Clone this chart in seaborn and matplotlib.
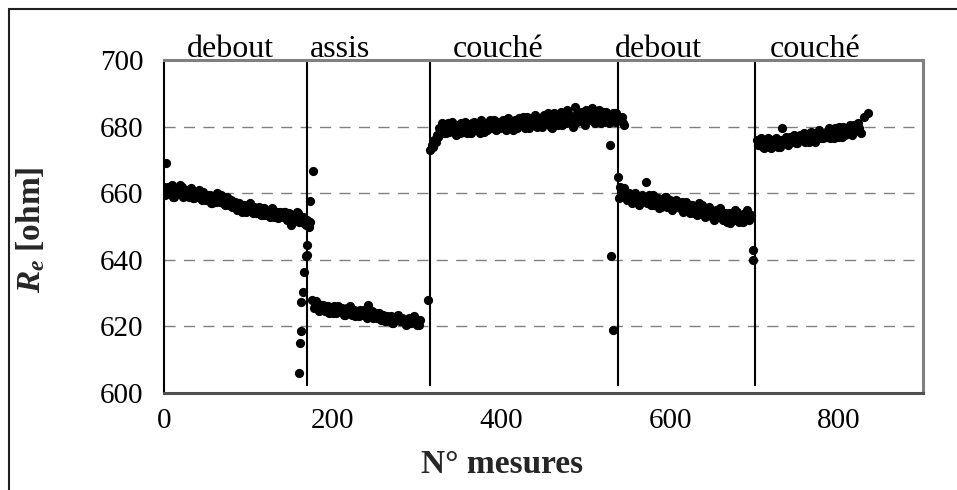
import numpy as np
import pandas as pd
import matplotlib
matplotlib.use("Agg")
import matplotlib.pyplot as plt
from matplotlib.lines import Line2D
import seaborn as sns

# ---------------- data ----------------
STEP = 3
seg1_start = 0
seg1_vals = [662, 661, 660, 662.5, 659, 661.5, 660, 662, 659.5,
             661, 659, 660.5, 658.5, 660, 661, 658, 659.5,
             658, 659.5, 657, 658.5, 660, 657.5, 658, 656.5, 659, 657.5,
             656, 657.5, 655, 656.5, 654.5, 656, 655, 657, 654, 655.5,
             654.5, 655.5, 653.5, 655, 654, 653, 655, 654, 652.5, 654.5,
             653, 654.5, 652.5, 650.5, 653.5, 652, 654, 651.5, 653, 650.5]
seg1b_start = 1.5
seg1b_vals = [659.5, 662, 661, 659, 661.5, 660, 662.5, 659, 661,
              659.5, 661.5, 658.5, 660, 659, 658.5, 660.5, 658,
              659.5, 657, 659, 657.5, 658, 659.5, 657, 658.5, 656.5, 658,
              657.5, 655.5, 657, 655, 656.5, 654.5, 656.5, 655, 656, 654,
              656, 653.5, 655.5, 653.5, 654.5, 655.5, 653, 654.5, 653, 653.5,
              654.5, 652, 654, 653, 652, 654.5, 651.5, 653, 651, 652]
trans1_x = [2, 160, 161, 162, 163, 165, 166, 168, 169, 169, 172, 173, 173, 177]
trans1_y = [669, 606, 615, 618.7, 627.2, 630.2, 636.2, 641, 641.3, 644.5, 649.8, 651.5, 657.6, 666.6]

seg2_start = 176
seg2_vals = [628, 626, 627, 625, 626.5, 624.5, 626, 625, 624, 625.5, 626, 624.5,
             625, 623.5, 625, 626, 624, 623, 624.5, 625, 623.5, 624, 626.5, 623,
             622.5, 624, 623, 622, 623.5, 621.5, 622.5, 623, 621, 622, 623.5,
             621.5, 622, 620.5, 622.5, 621, 623, 621.5, 620.5]
seg2b_start = 177.5
seg2b_vals = [625.5, 627.5, 624.5, 626.5, 625, 626, 624, 625.5, 626, 624, 624.5, 625.5,
              623.5, 625.5, 624, 623.5, 625, 624.5, 623, 624, 625, 622.5, 623.5, 624.5,
              623.5, 622.5, 624, 623, 621.5, 623, 622, 621, 622.5, 623, 621.5,
              622.5, 621, 622, 621, 622, 621.5, 620.5, 622]
trans2_x = [313]
trans2_y = [628]

seg3_start = 316
seg3_vals = [673, 674, 675.5, 677, 678.5, 680,
             678, 681, 679, 680.5, 677.5, 680, 681, 678.5, 679.5,
             680.5, 678, 681.5, 679, 680, 682, 678.5, 681, 679.5, 680.5, 682, 679, 681, 680,
             681.5, 679, 682, 680, 681, 679.5, 682.5, 680.5, 681, 683, 679.5, 682, 681, 680,
             682.5, 680, 683.5, 681, 682, 679.5, 684, 681.5, 682.5, 680.5, 683, 685, 681, 682.5,
             686, 681.5, 683, 684.5, 680.5, 683.5, 682, 685.5, 681, 684, 682.5, 684.5,
             681.5, 683, 682, 684, 681.5, 683, 682.5, 681]
seg3b_start = 317.5
seg3b_vals = [674.5, 676, 677.5, 679.5, 681, 678,
              680, 678.5, 681.5, 679, 680.5, 678, 679.5, 681.5, 678,
              679, 681, 679.5, 680.5, 678, 681, 680, 679, 682, 679.5, 680.5, 681.5, 679.5, 682,
              680, 682.5, 680.5, 679, 682, 680.5, 681, 683, 679.5, 681.5, 682.5, 680.5, 683.5, 681.5,
              680.5, 683, 681.5, 684, 680, 683, 682, 680.5, 684.5, 682, 681, 684, 682.5, 680,
              683.5, 684.5, 682, 681, 685, 682.5, 684, 681.5, 683.5, 685, 681, 683,
              684.5, 681, 683.5, 682.5, 684, 682, 683, 680.5]
trans3_x = [529, 530, 532]
trans3_y = [674.6, 641, 619]

seg4_start = 538
seg4_vals = [665, 662, 659, 660.5, 658, 659.5, 657.5, 660, 658.5, 657, 659, 663.5,
             658, 656.5, 659.5, 657.5, 658.5, 656, 658, 659, 656.5, 657.5, 655.5, 658,
             657, 656, 654.5, 657.5, 655, 656.5, 654, 656, 657, 654.5, 655.5, 653.5,
             656, 654, 652, 655, 653.5, 654.5, 652.5, 651.5, 654, 653, 652, 654.5,
             651.5, 653, 652.5, 655, 652]
seg4b_start = 539.5
seg4b_vals = [658.5, 660, 661.5, 658, 660, 657, 659, 658, 656.5, 659.5, 658, 657,
              659.5, 658, 656.5, 658.5, 655.5, 657.5, 659, 656, 658, 655, 657, 656.5,
              655.5, 657.5, 655, 656, 654, 656.5, 655.5, 653.5, 655, 656.5, 653, 655,
              654.5, 652.5, 654.5, 653, 655.5, 652, 654, 653, 651, 653.5, 655, 652,
              653.5, 651.5, 654, 652.5, 653.5]
trans4_x = [699, 699]
trans4_y = [643, 640]

seg5_start = 703
seg5_vals = [676, 674.5, 675.5, 673.5, 675, 674, 676, 674.5, 675.5, 674, 679.5, 676,
             675, 677, 675.5, 676.5, 675, 677.5, 676, 675.5, 677, 676.5, 678, 675.5,
             677, 678.5, 676.5, 677.5, 679, 676.5, 678, 679.5, 677, 678.5, 680, 677.5,
             679, 680.5, 678, 679.5, 681, 678]
seg5b_start = 704.5
seg5b_vals = [674.5, 676.5, 674, 675.5, 676.5, 673.5, 675, 676.5, 674, 676, 675.5, 677,
              674.5, 676, 677.5, 675, 677, 676, 678, 676.5, 675.5, 678.5, 676, 677.5,
              679, 676.5, 678, 677, 679.5, 677.5, 676.5, 678.5, 680, 677, 679, 678.5,
              680, 677.5, 680.5, 679, 679.5]
trans5_x = [830, 835]
trans5_y = [683, 684]

separators = [169, 315, 538, 701]
phase_labels = ["debout", "assis", "couché", "debout", "couché"]
phase_label_x = [79, 209, 396, 586, 772]

x_ticks = [0, 200, 400, 600, 800]
y_ticks = [600, 620, 640, 660, 680, 700]

# ---------------- assemble ----------------
xs, ys = [], []
for start, vals in [(seg1_start, seg1_vals), (seg1b_start, seg1b_vals),
                    (seg2_start, seg2_vals), (seg2b_start, seg2b_vals),
                    (seg3_start, seg3_vals), (seg3b_start, seg3b_vals),
                    (seg4_start, seg4_vals), (seg4b_start, seg4b_vals),
                    (seg5_start, seg5_vals), (seg5b_start, seg5b_vals)]:
    xs.extend(list(start + STEP * np.arange(len(vals))))
    ys.extend(vals)
for tx, ty in [(trans1_x, trans1_y), (trans2_x, trans2_y), (trans3_x, trans3_y),
               (trans4_x, trans4_y), (trans5_x, trans5_y)]:
    xs.extend(tx)
    ys.extend(ty)
df = pd.DataFrame({"mesure": xs, "Re": ys})

# ---------------- style ----------------
sns.set_style("white")
plt.rcParams["font.family"] = ["Liberation Serif", "DejaVu Serif"]
plt.rcParams["mathtext.fontset"] = "custom"
plt.rcParams["mathtext.it"] = "Liberation Serif:italic:bold"
plt.rcParams["mathtext.rm"] = "Liberation Serif:bold"
plt.rcParams["mathtext.bf"] = "Liberation Serif:bold"

fig = plt.figure(figsize=(9.57, 4.90), dpi=100)
ax = fig.add_axes([164 / 957, 1 - 393 / 490, (923 - 164) / 957, (393 - 60) / 490])

# gridlines
for yv in y_ticks[1:-1]:
    ax.axhline(yv, color="#808080", lw=1.0, ls=(0, (8, 6)), zorder=1)

# separators
ax.vlines(separators, 602, 700, color="black", lw=1.5, zorder=2)

sns.scatterplot(data=df, x="mesure", y="Re", ax=ax, color="black", s=44,
                edgecolor="black", linewidth=0, zorder=3, legend=False)

ax.set_xlim(0, 900)
ax.set_ylim(600, 700)
ax.set_xticks(x_ticks)
ax.set_yticks(y_ticks)
ax.tick_params(axis="both", direction="out", length=8, width=1, color="black",
               labelsize=21, labelcolor="black")
ax.tick_params(axis="x", pad=3)
ax.tick_params(axis="y", pad=7)

for side in ["top", "right"]:
    ax.spines[side].set_color("#808080")
    ax.spines[side].set_linewidth(2.2)
ax.spines["bottom"].set_color("#505050")
ax.spines["bottom"].set_linewidth(2.2)
ax.spines["left"].set_color("black")
ax.spines["left"].set_linewidth(1.5)

for lab, lx in zip(phase_labels, phase_label_x):
    ax.text(lx, 1.008, lab, transform=ax.get_xaxis_transform(), ha="center",
            va="baseline", fontsize=23, color="black")

ax.set_xlabel("N° mesures", fontsize=24, fontweight="bold", va="center")
ax.xaxis.set_label_coords((502 - 164) / 759, (393 - 464) / 333)
ax.set_ylabel(r"$\mathit{R}_{\mathit{e}}$ [ohm]", fontsize=24, fontweight="bold",
              va="center")
ax.yaxis.set_label_coords((31 - 164) / 759, 0.49)

# outer frame (top and left edges visible)
fig.add_artist(Line2D([9 / 957, 1], [1 - 9 / 490, 1 - 9 / 490], transform=fig.transFigure,
                      color="#202020", lw=1.5))
fig.add_artist(Line2D([9 / 957, 9 / 957], [0, 1 - 9 / 490], transform=fig.transFigure,
                      color="#202020", lw=1.5))

fig.savefig("out.png", dpi=100)
